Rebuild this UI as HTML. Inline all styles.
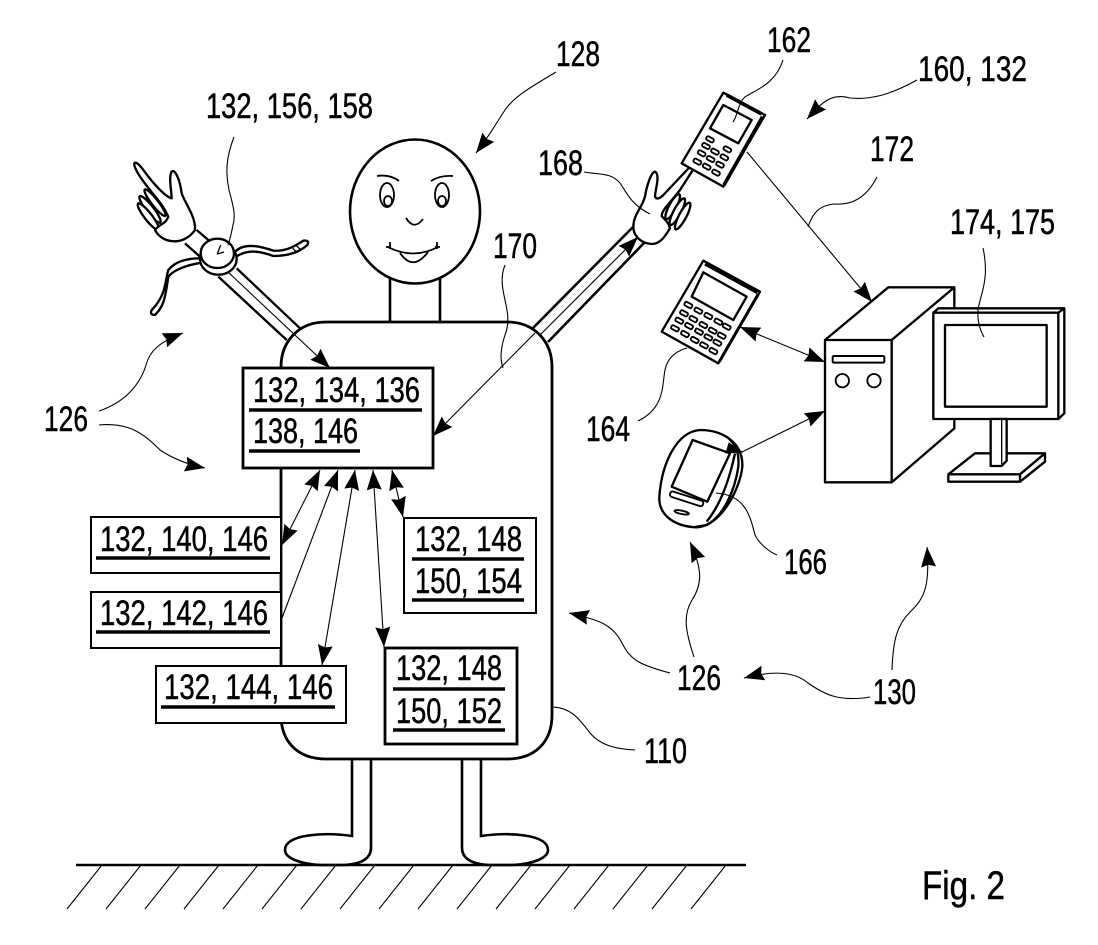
<!DOCTYPE html>
<html><head><meta charset="utf-8"><title>Fig. 2</title>
<style>
html,body{margin:0;padding:0;background:#fff}
svg{display:block}
text{font-family:"Liberation Sans",sans-serif;font-size:35px;fill:#000;stroke:#000;stroke-width:.5}
.b{fill:none;stroke:#000;stroke-width:2.6}
.w{fill:#fff;stroke:#000;stroke-width:2.8}
.t{fill:none;stroke:#000;stroke-width:1.1}
.u{stroke:#000;stroke-width:3.6}
.z{fill:#fff;stroke:#000;stroke-width:7;stroke-linejoin:round}
.n{fill:none;stroke:#000;stroke-width:7;stroke-linejoin:round}
.k{fill:#fff;stroke:#000;stroke-width:5.5}
</style></head><body>
<svg width="1098" height="945" viewBox="0 0 1098 945" xmlns="http://www.w3.org/2000/svg">
<defs>
<marker id="a" viewBox="0 0 18 13" refX="18" refY="6.5" markerWidth="20" markerHeight="15" markerUnits="userSpaceOnUse" orient="auto-start-reverse" preserveAspectRatio="none"><path d="M0,0 L18,6.5 L0,13 L2,6.5 Z" fill="#000"/></marker>
</defs>
<rect width="1098" height="945" fill="#fff"/>

<!-- ground -->
<path class="b" d="M76,865H746"/>
<path class="t" d="M102,865L67,909M141,865L106,909M180,865L145,909M219,865L184,909M258,865L223,909M297,865L262,909M336,865L301,909M375,865L340,909M414,865L379,909M453,865L418,909M492,865L457,909M531,865L496,909M570,865L535,909M609,865L574,909M648,865L613,909M687,865L652,909M726,865L691,909"/>

<!-- feet and legs -->
<path class="b" d="M352,758V836C325,832 285,834 285,850C285,858 300,864 320,865H345C362,864 371,858 371,848V758"/>
<path class="b" d="M481,758V836C508,832 548,834 548,850C548,858 533,864 513,865H488C471,864 462,858 462,848V758"/>

<!-- neck, head -->
<path class="b" d="M390,278V322M440,278V322"/>
<ellipse class="b" cx="415" cy="211.5" rx="65" ry="72"/>
<path class="b" style="stroke-width:1.8" d="M377,176Q390,174 399,181M431,181Q440,175 453,176M406,218Q414,231 423,219M388,247Q413,260 438,247M400,253Q413,272 428,252M390,242V249M437,242V249M386,247H391M435,247H440"/>
<ellipse class="b" style="stroke-width:1.8" cx="387" cy="195" rx="7" ry="12"/>
<ellipse class="b" style="stroke-width:1.8" cx="388" cy="201" rx="4" ry="5"/>
<ellipse class="b" style="stroke-width:1.8" cx="442" cy="195" rx="7" ry="12"/>
<ellipse class="b" style="stroke-width:1.8" cx="442" cy="201" rx="4" ry="5"/>

<!-- left arm, hand, watch -->
<g transform="translate(100,80) scale(.33333)">
<path class="n" d="M255,490L300,530M290,450L325,480M355,590L560,780M410,565L600,745"/>
<ellipse class="z" cx="165" cy="368" rx="50" ry="10" transform="rotate(52 165 368)"/>
<ellipse class="z" cx="150" cy="388" rx="50" ry="11" transform="rotate(52 150 388)"/>
<ellipse class="z" cx="145" cy="410" rx="50" ry="11" transform="rotate(52 145 410)"/>
<path class="z" d="M285,450C288,410 255,370 245,340C240,300 225,265 215,275C205,290 215,335 215,355C195,350 165,315 145,290C130,270 110,240 103,250C100,265 130,305 150,330C165,350 190,375 205,410C195,435 180,430 165,450C185,490 250,500 285,450Z"/>
<path class="n" d="M300,535C260,535 225,545 205,570C195,600 200,645 155,690Q148,705 165,705C190,680 195,660 205,590C220,570 260,555 305,548"/>
<path class="n" d="M405,515C430,490 470,495 520,512C560,515 590,495 610,482Q630,480 622,495C600,515 570,528 520,528C470,510 440,510 408,530"/>
<path class="n" style="stroke-width:4" d="M578,505L592,518M590,498L603,510"/>
<ellipse class="z" cx="355" cy="537" rx="55" ry="47"/>
<ellipse class="z" cx="352" cy="520" rx="50" ry="44"/>
<path class="n" style="stroke-width:4" d="M362,495L352,522L372,516"/>
</g>
<path class="t" d="M228,272L330,368" marker-end="url(#a)"/>
<path class="t" d="M234,137C225,160 226,175 229,190C233,205 236,215 233,225C231,235 230,240 228,245"/>

<!-- right arm -->
<path class="b" d="M532,329L633,227M548,342L645,242"/>
<path class="t" d="M540,335L638,237" marker-end="url(#a)"/>

<!-- right hand -->
<g transform="translate(620,90) scale(.33333)">
<ellipse class="z" cx="158" cy="350" rx="42" ry="11" transform="rotate(-62 158 350)"/>
<ellipse class="z" cx="172" cy="365" rx="45" ry="11" transform="rotate(-62 172 365)"/>
<ellipse class="z" cx="188" cy="378" rx="45" ry="11" transform="rotate(-62 188 378)"/>
<path class="z" d="M40,410C40,375 65,355 75,320C80,285 95,245 105,245C122,255 105,300 105,320C110,330 120,325 130,315L215,225C225,212 235,215 225,230L180,300C150,340 125,360 125,378C135,390 145,395 150,415C135,440 120,462 95,462C65,460 40,440 40,410Z"/>
</g>
<path class="t" d="M584,172C600,175 610,172 620,183C628,195 632,205 650,214"/>

<!-- phone 162 + 164 + pda + computer, zoom space -->
<g transform="translate(620,70) scale(.33333)">
<!-- 162 -->
<path class="z" d="M310,68L435,135L310,350L185,280Z"/>
<path class="n" d="M320,75L425,132M428,140L312,345" style="stroke-width:11"/>
<path class="n" d="M310,105L395,150L355,220L270,175Z"/>
<g class="k">
<rect x="258" y="202" width="24" height="12" rx="5" transform="rotate(28 270 208)"/>
<rect x="310" y="232" width="24" height="12" rx="5" transform="rotate(28 322 238)"/>
<rect x="246" y="222" width="24" height="12" rx="5" transform="rotate(28 258 228)"/>
<rect x="273" y="239" width="24" height="12" rx="5" transform="rotate(28 285 245)"/>
<rect x="301" y="256" width="24" height="12" rx="5" transform="rotate(28 313 262)"/>
<rect x="233" y="244" width="24" height="12" rx="5" transform="rotate(28 245 250)"/>
<rect x="260" y="261" width="24" height="12" rx="5" transform="rotate(28 272 267)"/>
<rect x="288" y="278" width="24" height="12" rx="5" transform="rotate(28 300 284)"/>
<rect x="220" y="269" width="24" height="12" rx="5" transform="rotate(28 232 275)"/>
<rect x="248" y="284" width="24" height="12" rx="5" transform="rotate(28 260 290)"/>
<rect x="276" y="302" width="24" height="12" rx="5" transform="rotate(28 288 308)"/>
</g>
<!-- 164 -->
<path class="z" d="M250,572L420,665L295,880L125,785Z"/>
<path class="n" d="M255,582L412,668M415,672L298,875" style="stroke-width:9"/>
<path class="n" d="M250,607L380,680L340,750L215,680Z"/>
<g class="k">
<rect x="193" y="699" width="24" height="12" rx="4" transform="rotate(28 205 705)"/>
<rect x="223" y="716" width="24" height="12" rx="4" transform="rotate(28 235 722)"/>
<rect x="253" y="732" width="24" height="12" rx="4" transform="rotate(28 265 738)"/>
<rect x="283" y="749" width="24" height="12" rx="4" transform="rotate(28 295 755)"/>
<rect x="308" y="764" width="24" height="12" rx="4" transform="rotate(28 320 770)"/>
<rect x="180" y="724" width="24" height="12" rx="4" transform="rotate(28 192 730)"/>
<rect x="208" y="741" width="24" height="12" rx="4" transform="rotate(28 220 747)"/>
<rect x="238" y="759" width="24" height="12" rx="4" transform="rotate(28 250 765)"/>
<rect x="266" y="776" width="24" height="12" rx="4" transform="rotate(28 278 782)"/>
<rect x="293" y="791" width="24" height="12" rx="4" transform="rotate(28 305 797)"/>
<rect x="166" y="746" width="24" height="12" rx="4" transform="rotate(28 178 752)"/>
<rect x="195" y="762" width="24" height="12" rx="4" transform="rotate(28 207 768)"/>
<rect x="225" y="779" width="24" height="12" rx="4" transform="rotate(28 237 785)"/>
<rect x="253" y="796" width="24" height="12" rx="4" transform="rotate(28 265 802)"/>
<rect x="280" y="812" width="24" height="12" rx="4" transform="rotate(28 292 818)"/>
<rect x="153" y="769" width="24" height="12" rx="4" transform="rotate(28 165 775)"/>
<rect x="183" y="786" width="24" height="12" rx="4" transform="rotate(28 195 792)"/>
<rect x="212" y="804" width="24" height="12" rx="4" transform="rotate(28 224 810)"/>
<rect x="240" y="820" width="24" height="12" rx="4" transform="rotate(28 252 826)"/>
<rect x="268" y="837" width="24" height="12" rx="4" transform="rotate(28 280 843)"/>
</g>
<!-- pda -->
<path class="z" d="M240,1080C310,1080 370,1120 367,1190C360,1260 300,1370 230,1372C170,1370 115,1340 118,1280C125,1180 170,1085 240,1080Z"/>
<path class="n" d="M218,1110L330,1150L262,1295L155,1250Z"/>
<path class="n" d="M320,1100C350,1125 358,1150 355,1190C345,1260 310,1340 260,1365L220,1372"/>
<path class="n" d="M345,1150C330,1220 305,1300 260,1355"/>
<rect class="k" x="148" y="1278" width="104" height="17" rx="8" transform="rotate(18 200 1286)"/>
<ellipse class="k" cx="185" cy="1327" rx="22" ry="5" transform="rotate(12 185 1327)"/>
<!-- tower -->
<path class="z" d="M615,810L805,652H1003V1075L815,1237H615Z"/>
<path class="n" d="M615,810H815V1237M815,810L1003,652"/>
<rect class="k" x="638" y="858" width="155" height="20" rx="4" style="stroke-width:6"/>
<circle class="k" cx="667" cy="932" r="20"/>
<circle class="k" cx="762" cy="932" r="20"/>
<!-- monitor -->
<path class="z" d="M940,728L955,715H1333V1030L1315,1047H940Z"/>
<path class="n" d="M940,728H1315V1047M1315,728L1333,715"/>
<rect class="z" x="975" y="765" width="305" height="245"/>
<path class="z" d="M985,1213L1065,1150H1275V1175L1200,1235H985Z"/>
<path class="n" d="M985,1213H1200L1275,1150M1200,1213V1235"/>
<path class="z" d="M1112,1047H1160V1172L1145,1188H1112Z"/>
<path class="n" d="M1145,1047V1188" style="stroke-width:4"/>
</g>

<!-- device arrows -->
<path class="t" d="M747,152L872,302" marker-end="url(#a)"/>
<path class="t" d="M740,327L825,362" marker-start="url(#a)" marker-end="url(#a)"/>
<path class="t" d="M742,452L825,411" marker-end="url(#a)"/>
<path d="M726,453L729,443L742,452Z" fill="#000" stroke="#000"/>

<!-- body -->
<path class="w" style="fill:none" d="M326,322H507C535,322 552,342 552,367V715C552,742 535,759 507,759H326C298,759 281,742 281,715V367C281,342 298,322 326,322Z"/>

<!-- boxes -->
<rect class="w" x="243" y="368" width="190" height="100"/>
<rect class="w" x="91" y="517" width="190" height="56" style="stroke-width:2"/>
<rect class="w" x="91" y="592" width="190" height="56" style="stroke-width:2"/>
<rect class="w" x="156" y="666" width="190" height="57" style="stroke-width:2"/>
<rect class="w" x="404" y="518" width="132" height="95" style="stroke-width:2"/>
<rect class="w" x="385" y="648" width="132" height="96"/>

<!-- box text -->
<text x="253" y="402" textLength="167" lengthAdjust="spacingAndGlyphs">132, 134, 136</text>
<text x="253" y="443" textLength="105" lengthAdjust="spacingAndGlyphs">138, 146</text>
<path class="u" d="M249,410H422M249,451H360"/>
<text x="100" y="551" textLength="168" lengthAdjust="spacingAndGlyphs">132, 140, 146</text>
<path class="u" d="M96,558H270"/>
<text x="100" y="625" textLength="168" lengthAdjust="spacingAndGlyphs">132, 142, 146</text>
<path class="u" d="M96,632H270"/>
<text x="164" y="699" textLength="169" lengthAdjust="spacingAndGlyphs">132, 144, 146</text>
<path class="u" d="M161,707H335"/>
<text x="415" y="551" textLength="107" lengthAdjust="spacingAndGlyphs">132, 148</text>
<text x="415" y="593" textLength="107" lengthAdjust="spacingAndGlyphs">150, 154</text>
<path class="u" d="M412,559H524M412,600H524"/>
<text x="396" y="680" textLength="106" lengthAdjust="spacingAndGlyphs">132, 148</text>
<text x="396" y="723" textLength="106" lengthAdjust="spacingAndGlyphs">150, 152</text>
<path class="u" d="M393,689H505M393,730H505"/>

<!-- box arrows -->
<path class="t" d="M320,470L282,545" marker-start="url(#a)" marker-end="url(#a)"/>
<path class="t" d="M338,470L282,618" marker-start="url(#a)"/>
<path class="t" d="M355,470L322,665" marker-start="url(#a)" marker-end="url(#a)"/>
<path class="t" d="M373,470L384,647" marker-start="url(#a)" marker-end="url(#a)"/>
<path class="t" d="M392,470L403,517" marker-start="url(#a)" marker-end="url(#a)"/>
<path class="t" d="M535,333L433,436" marker-end="url(#a)"/>

<!-- leaders and squiggle arrows -->
<path class="t" d="M505,265C495,290 515,310 505,335C500,350 500,360 503,368"/>
<path class="t" d="M556,72C535,85 515,95 505,110C495,125 490,135 476,153" marker-end="url(#a)"/>
<path class="t" d="M917,80C890,95 870,100 850,98C830,92 820,105 807,119" marker-end="url(#a)"/>
<path class="t" d="M783,60C775,85 755,90 745,97C738,103 738,115 733,122"/>
<path class="t" d="M877,177C865,200 850,205 835,204C818,205 812,215 808,227"/>
<path class="t" d="M983,248C990,280 980,295 978,310C977,320 980,330 984,337"/>
<path class="t" d="M638,421C665,408 662,385 665,370C668,355 680,350 687,348"/>
<path class="t" d="M716,493C745,495 750,515 755,535C760,545 770,552 777,555"/>
<path class="t" d="M99,411C125,402 140,385 146,365C150,350 160,342 183,333" marker-end="url(#a)"/>
<path class="t" d="M99,425C130,422 145,435 160,450C175,460 190,465 205,468" marker-end="url(#a)"/>
<path class="t" d="M670,673C640,665 630,660 622,643C613,625 600,620 569,613" marker-end="url(#a)"/>
<path class="t" d="M694,657C685,630 683,615 692,600C702,585 703,570 690,542" marker-end="url(#a)"/>
<path class="t" d="M870,697C840,702 825,695 808,683C795,672 775,670 744,678" marker-end="url(#a)"/>
<path class="t" d="M892,670C893,640 897,625 910,612C925,598 930,585 927,547" marker-end="url(#a)"/>
<path class="t" d="M553,707C572,708 580,720 590,733C600,745 615,749 635,750"/>

<!-- labels -->
<text x="206" y="118" textLength="167" lengthAdjust="spacingAndGlyphs">132, 156, 158</text>
<text x="767" y="52" textLength="44" lengthAdjust="spacingAndGlyphs">162</text>
<text x="556" y="66" textLength="44" lengthAdjust="spacingAndGlyphs">128</text>
<text x="918" y="81" textLength="109" lengthAdjust="spacingAndGlyphs">160, 132</text>
<text x="870" y="161" textLength="44" lengthAdjust="spacingAndGlyphs">172</text>
<text x="538" y="175" textLength="45" lengthAdjust="spacingAndGlyphs">168</text>
<text x="493" y="258" textLength="44" lengthAdjust="spacingAndGlyphs">170</text>
<text x="950" y="234" textLength="105" lengthAdjust="spacingAndGlyphs">174, 175</text>
<text x="586" y="441" textLength="44" lengthAdjust="spacingAndGlyphs">164</text>
<text x="44" y="431" textLength="44" lengthAdjust="spacingAndGlyphs">126</text>
<text x="784" y="574" textLength="43" lengthAdjust="spacingAndGlyphs">166</text>
<text x="677" y="690" textLength="44" lengthAdjust="spacingAndGlyphs">126</text>
<text x="873" y="704" textLength="43" lengthAdjust="spacingAndGlyphs">130</text>
<text x="644" y="763" textLength="43" lengthAdjust="spacingAndGlyphs">110</text>
<text x="922" y="899" textLength="83" lengthAdjust="spacingAndGlyphs" style="font-size:40px">Fig. 2</text>
</svg>
</body></html>
